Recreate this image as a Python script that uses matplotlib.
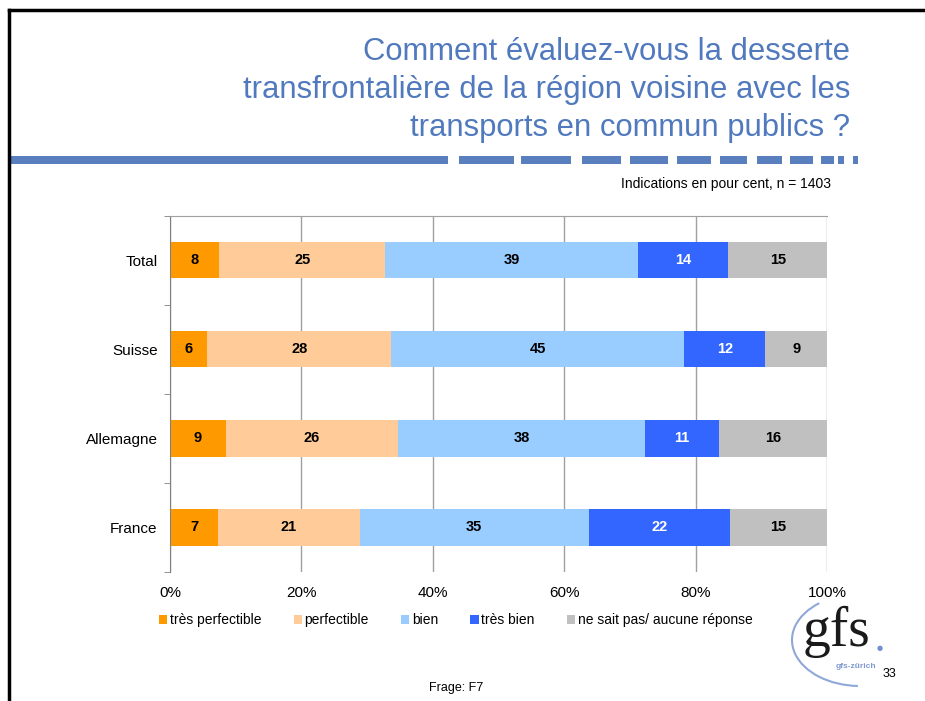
import numpy as np
import matplotlib.pyplot as plt
from matplotlib.patches import Rectangle, Arc

plt.rcParams['font.family'] = ['Liberation Sans', 'DejaVu Sans']

categories = ["Total", "Suisse", "Allemagne", "France"]
series = ["très perfectible", "perfectible", "bien", "très bien", "ne sait pas/ aucune réponse"]
values = {
    "très perfectible": [7.5, 5.7, 8.5, 7.3],
    "perfectible": [25.3, 28.0, 26.2, 21.6],
    "bien": [38.5, 44.6, 37.6, 34.8],
    "très bien": [13.7, 12.3, 11.3, 21.5],
    "ne sait pas/ aucune réponse": [15.0, 9.4, 16.4, 14.8],
}
labels = {
    "très perfectible": [8, 6, 9, 7],
    "perfectible": [25, 28, 26, 21],
    "bien": [39, 45, 38, 35],
    "très bien": [14, 12, 11, 22],
    "ne sait pas/ aucune réponse": [15, 9, 16, 15],
}
colors = ["#FF9900", "#FFCC99", "#99CCFF", "#3366FF", "#C0C0C0"]
xticks = [0, 20, 40, 60, 80, 100]

W, H = 925, 701
fig = plt.figure(figsize=(W / 100, H / 100), dpi=100)


def fx(px):
    return px / W


def fy(py):
    return 1 - py / H


# slide frame
fig.add_artist(plt.Line2D([fx(9), fx(9)], [fy(10), 0], color="black", lw=2.5))
fig.add_artist(plt.Line2D([fx(9), 1], [fy(10), fy(10)], color="black", lw=2.5))

# title
title_color = "#5079BE"
for text, ypx in [("Comment évaluez-vous la desserte", 52),
                  ("transfrontalière de la région voisine avec les", 90),
                  ("transports en commun publics ?", 128)]:
    fig.text(fx(850), fy(ypx), text, ha="right", va="center", fontsize=22.3, color=title_color)

# dashed rule under the title
segs = [(10, 448), (459, 514), (521, 571), (582, 621), (630, 668), (677, 711),
        (720, 747), (757, 782), (790, 813), (821, 834), (838, 844), (853, 858)]
for a, b in segs:
    fig.add_artist(Rectangle((fx(a), fy(164)), fx(b) - fx(a), 8 / H,
                             transform=fig.transFigure, color="#5A7FBF", lw=0))

fig.text(fx(831), fy(184), "Indications en pour cent, n = 1403", ha="right", va="center",
         fontsize=10)

ax = fig.add_axes([fx(170), fy(572), fx(827) - fx(170), (572 - 215.5) / H])
y = np.arange(len(categories))
left = np.zeros(len(categories))
for name, c in zip(series, colors):
    v = np.array(values[name])
    bars = ax.barh(y, v, left=left, height=0.41, color=c, label=name)
    tc = "white" if c == "#3366FF" else "black"
    ax.bar_label(bars, labels=[str(l) for l in labels[name]], label_type="center",
                 fontsize=10.5, fontweight="bold", color=tc)
    left += v

ax.set_xlim(0, 100)
ax.set_ylim(len(categories) - 0.5, -0.5)
ax.set_xticks(xticks)
ax.set_xticklabels([f"{t}%" for t in xticks], fontsize=11)
ax.set_yticks(y)
ax.set_yticklabels(categories, fontsize=11)
ax.set_yticks(np.arange(len(categories) + 1) - 0.5, minor=True)
ax.tick_params(axis="y", which="major", length=0, pad=9)
ax.tick_params(axis="y", which="minor", length=4, color="#808080", direction="out")
ax.tick_params(axis="x", length=0, pad=10)
ax.grid(axis="x", color="#A0A0A0", lw=1)
ax.set_axisbelow(True)
for s in ["right", "bottom"]:
    ax.spines[s].set_visible(False)
ax.spines["left"].set_color("#808080")
ax.spines["top"].set_color("#A0A0A0")

ax.legend(ncol=5, loc="center left", bbox_to_anchor=(fx(159), fy(620)),
          bbox_transform=fig.transFigure, frameon=False, fontsize=10, handlelength=0.6,
          handleheight=0.6, handletextpad=0.2, columnspacing=2.3, borderaxespad=0,
          borderpad=0)

# logo
fig.add_artist(Arc((fx(860), fy(640)), 136 / W, 92 / H, theta1=130, theta2=268,
                   transform=fig.transFigure, color="#8FA8D8", lw=1.5))
fig.text(fx(803), fy(646), "gfs", fontsize=40, family="Liberation Serif", color="#1A1A1A",
         ha="left", va="baseline")
fig.text(fx(880), fy(648), "●", fontsize=5, color="#6F8FD0", ha="center", va="center",
         family="DejaVu Sans")
fig.text(fx(856), fy(667), "gfs-zürich", fontsize=6, color="#7F9AD0", ha="center",
         va="center", fontweight="bold")
fig.text(fx(889), fy(674), "33", fontsize=9, ha="center", va="center")
fig.text(fx(456), fy(688), "Frage: F7", fontsize=9, ha="center", va="center")

fig.savefig("out.png", dpi=100)
